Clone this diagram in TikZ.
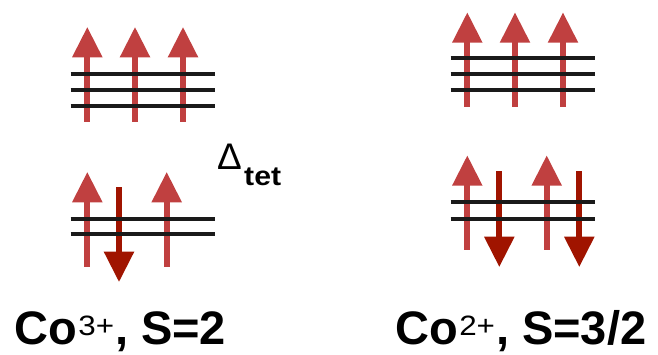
\documentclass[tikz,border=0pt]{standalone}
\usepackage{fontspec}
\setmainfont{Liberation Sans}
\newfontfamily\widefont[FakeStretch=1.12]{Liberation Sans}
\definecolor{upred}{RGB}{192,64,64}
\definecolor{downred}{RGB}{160,20,0}
\definecolor{levelblack}{RGB}{26,26,26}
\newcommand\spinup[3]{%
  \fill[upred] ({#1-15.3},{#2+30}) -- (#1,#2) -- ({#1+15.3},{#2+30}) -- cycle;
  \draw[upred,line width=6pt] (#1,{#2+29}) -- (#1,#3);}
\newcommand\spindown[3]{%
  \fill[downred] ({#1-15.3},{#3-30}) -- (#1,#3) -- ({#1+15.3},{#3-30}) -- cycle;
  \draw[downred,line width=6pt] (#1,#2) -- (#1,{#3-29});}
\newcommand\levels[3]{%
  \foreach \yy in {#3} {\draw[level] (#1,\yy) -- (#2,\yy);}}
\newcommand\chargesup[1]{\hspace{1pt}\raisebox{9.5pt}{\scalebox{1.12}[1]{\fontsize{28}{28}\selectfont\mdseries #1}}\hspace{1pt}}
\tikzset{
  level/.style={levelblack,line width=4pt},
  label/.style={inner sep=0pt,anchor=base west,font=\fontsize{47}{47}\selectfont\bfseries}
}
\begin{document}
\begin{tikzpicture}[x=1pt,y=-1pt]
\useasboundingbox (0,0) rectangle (658,354);
% Co3+ upper
\spinup{87.3}{27.3}{121.7}
\spinup{135}{27.3}{121.7}
\spinup{183}{27.3}{121.7}
\levels{70.7}{214.7}{74.3,90.3,106.3}
% Co3+ lower
\spinup{87.3}{172.3}{266.7}
\spinup{166.7}{172.3}{266.7}
\spindown{119}{187.3}{281.7}
\levels{70.7}{214.7}{218.7,234.3}
% Co2+ upper
\spinup{467.3}{12.7}{106.7}
\spinup{515}{12.7}{106.7}
\spinup{563}{12.7}{106.7}
\levels{450.7}{594.7}{58.3,74.3,90.3}
% Co2+ lower
\spinup{467.3}{155.7}{250}
\spinup{546.7}{155.7}{250}
\spindown{499.3}{171}{266.7}
\spindown{579.3}{171}{266.7}
\levels{450.7}{594.7}{202.3,218.7}
% Delta
\node[inner sep=0pt,anchor=base west,font=\fontsize{37}{37}\selectfont] (delta) at (217,169.5) {Δ};
\node[inner sep=0pt,anchor=base west,font=\widefont\fontsize{27}{27}\selectfont\bfseries] (tet) at (244,185) {tet};
% labels
\node[label] (lab1) at (14.5,344.5) {Co\chargesup{3+}, S=2};
\node[label] (lab2) at (395.4,344.5) {Co\chargesup{2+}, S=3/2};
\end{tikzpicture}
\end{document}
